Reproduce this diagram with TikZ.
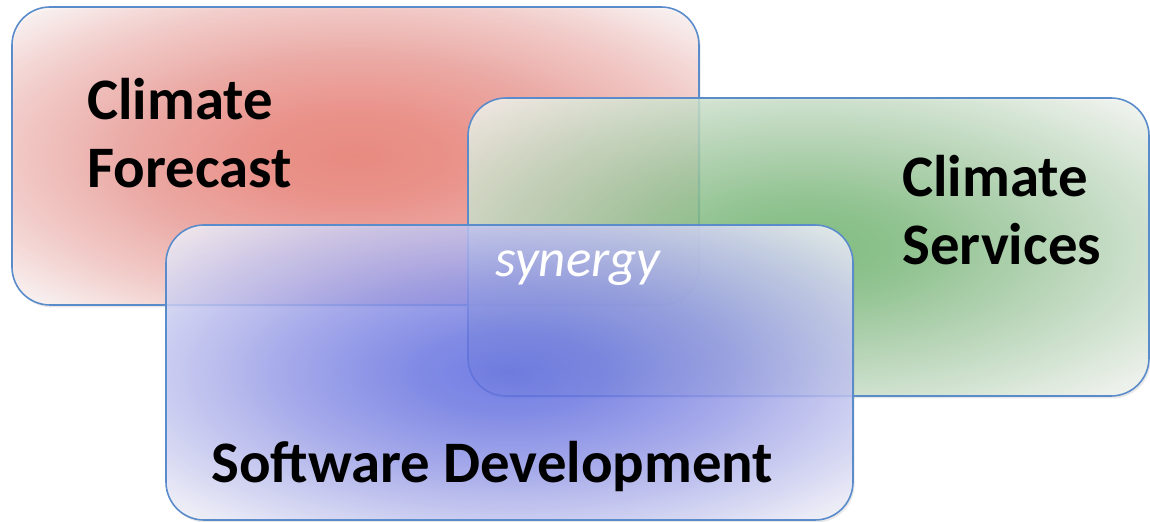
\documentclass[tikz,border=0pt]{standalone}
\usepackage{fontspec}
\setmainfont{Carlito}
\usetikzlibrary{shadows}
\definecolor{bordercol}{HTML}{5A8CCB}
\definecolor{redC}{HTML}{E8766A}
\definecolor{redM}{HTML}{EC9A94}
\definecolor{redO}{HTML}{FCF4F4}
\definecolor{greenC}{HTML}{6AB36A}
\definecolor{greenM}{HTML}{A2CBA2}
\definecolor{greenO}{HTML}{F3F6F1}
\definecolor{blueC}{HTML}{5A68E2}
\definecolor{blueM}{HTML}{959AEA}
\definecolor{blueO}{HTML}{F3F3FB}
\pgfdeclareradialshading{redshade}{\pgfpoint{0bp}{0bp}}{color(0bp)=(redC); color(7bp)=(redC!75!redM); color(16bp)=(redM); color(26bp)=(redM!50!redO); color(34bp)=(redO); color(50bp)=(redO)}
\pgfdeclareradialshading{greenshade}{\pgfpoint{0bp}{0bp}}{color(0bp)=(greenC); color(7bp)=(greenC!70!greenM); color(16bp)=(greenM); color(26bp)=(greenM!45!greenO); color(34bp)=(greenO); color(50bp)=(greenO)}
\pgfdeclareradialshading{blueshade}{\pgfpoint{0bp}{0bp}}{color(0bp)=(blueC); color(7bp)=(blueC!70!blueM); color(16bp)=(blueM); color(26bp)=(blueM!45!blueO); color(34bp)=(blueO); color(50bp)=(blueO)}
\tikzset{
  panel/.style={draw=bordercol, line width=0.8pt, rounded corners=19pt,
    fill opacity=0.82, draw opacity=1, inner sep=0pt,
    drop shadow={shadow xshift=0.8pt, shadow yshift=-1.2pt, opacity=0.18}},
  title/.style={font=\fontsize{29.4}{34}\selectfont\bfseries, text=black,
    align=left, inner sep=0pt, anchor=base west},
  synlabel/.style={font=\fontsize{26.5}{30}\selectfont\itshape, text=white,
    inner sep=0pt, anchor=base west}
}
\begin{document}
\begin{tikzpicture}[x=0.5pt,y=-0.5pt]
\useasboundingbox (0,0) rectangle (1150,522);
\node[panel, shading=redshade, minimum width=343.5pt, minimum height=149pt] (fc) at (355.5,156) {};
\node[panel, shading=greenshade, minimum width=340.5pt, minimum height=149pt] (cs) at (808.5,247) {};
\node[panel, shading=blueshade, minimum width=343.5pt, minimum height=147.5pt] (sd) at (509.5,372.5) {};
\node[title] (fctext) at (87,188) {Climate\\Forecast};
\node[title] (cstext) at (902,265) {Climate\\Services};
\node[title] (sdtext) at (211,483) {Software Development};
\node[synlabel] (syn) at (495,277) {synergy};
\end{tikzpicture}
\end{document}
